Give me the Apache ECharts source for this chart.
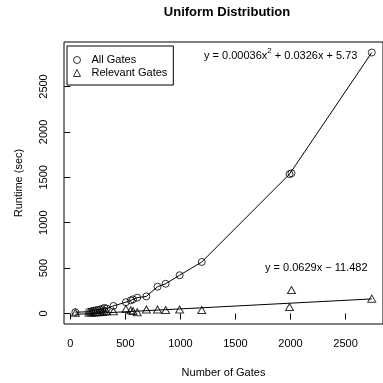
<!DOCTYPE html>
<html>
<head>
<meta charset="utf-8">
<script src="https://cdn.jsdelivr.net/npm/echarts@6/dist/echarts.min.js"></script>
<style>
html,body{margin:0;padding:0;background:#fff;}
#chart{width:383px;height:383px;}
</style>
</head>
<body>
<div id="chart"></div>
<script>
// Data
const allGatesX = [46, 170, 190, 210, 230, 250, 270, 290, 310, 330, 392, 505, 549, 570, 608, 691, 792, 866, 993, 1194, 1991, 2009, 2738];
const allGatesY = [15, 20, 25, 30, 35, 40, 45, 50, 62, 55, 84, 125, 145, 156, 175, 189, 295, 328, 422, 568, 1535, 1545, 2874];
const relGatesX = [46, 170, 190, 210, 230, 250, 270, 290, 310, 330, 392, 505, 549, 570, 608, 691, 792, 866, 993, 1194, 1991, 2009, 2738];
const relGatesY = [8, 10, 12, 12, 15, 15, 20, 18, 22, 25, 25, 50, 36, 29, 15, 45, 45, 40, 45, 40, 73, 259, 164];
const relFitX = [46, 2738];
const relFitY = [-9, 161];
const xTicks = [0, 500, 1000, 1500, 2000, 2500];
const yTicks = [0, 500, 1000, 1500, 2000, 2500];
const titleText = 'Uniform Distribution';
const xName = 'Number of Gates';
const yName = 'Runtime (sec)';
const seriesNames = ['All Gates', 'Relevant Gates'];

const pts = (xs, ys) => xs.map((x, i) => [x, ys[i]]);
const FONT = 'Liberation Sans, Arial, Helvetica, sans-serif';
const plain = v => String(v);

const chart = echarts.init(document.getElementById('chart'), null, {renderer: 'canvas'});
chart.setOption({
  animation: false,
  backgroundColor: '#fff',
  textStyle: {fontFamily: FONT, color: '#000'},
  title: {
    text: titleText,
    left: 227, top: 6, textAlign: 'center', padding: 0,
    textStyle: {fontFamily: FONT, fontSize: 13, fontWeight: 'bold', color: '#000'}
  },
  grid: {
    left: 64, top: 42, right: -8, bottom: 56.5,
    show: true, borderColor: '#000', borderWidth: 1, backgroundColor: 'transparent'
  },
  legend: {
    orient: 'vertical', left: 67, top: 46,
    padding: [8, 6, 6, 6],
    borderColor: '#000', borderWidth: 1,
    itemWidth: 7, itemHeight: 7, itemGap: 1,
    textStyle: {fontFamily: FONT, fontSize: 11, color: '#000', lineHeight: 12, padding: [0, 0, 0, 6]},
    data: [
      {name: seriesNames[0], icon: 'circle', itemStyle: {color: 'rgba(0,0,0,0)', borderColor: '#000', borderWidth: 1}},
      {name: seriesNames[1], icon: 'triangle', itemStyle: {color: 'rgba(0,0,0,0)', borderColor: '#000', borderWidth: 1}}
    ]
  },
  xAxis: {
    type: 'value', min: -57, max: 2840,
    name: xName, nameLocation: 'middle', nameGap: 43,
    nameTextStyle: {fontFamily: FONT, fontSize: 11, color: '#000'},
    axisLine: {show: false},
    axisTick: {show: true, inside: false, length: 6, customValues: xTicks, lineStyle: {color: '#000', width: 1}},
    axisLabel: {customValues: xTicks, formatter: plain, margin: 14, fontFamily: FONT, fontSize: 11, color: '#000'},
    splitLine: {show: false}
  },
  yAxis: {
    type: 'value', min: -115, max: 2990,
    name: yName, nameLocation: 'middle', nameGap: 40, nameRotate: 90,
    nameTextStyle: {fontFamily: FONT, fontSize: 11, color: '#000'},
    axisLine: {show: false},
    axisTick: {show: true, inside: false, length: 6, customValues: yTicks, lineStyle: {color: '#000', width: 1}},
    axisLabel: {customValues: yTicks, formatter: plain, rotate: 90, margin: 15, fontFamily: FONT, fontSize: 11, color: '#000'},
    splitLine: {show: false}
  },
  graphic: [
    {
      type: 'text', left: 204, top: 47,
      style: {
        text: '{n|y = 0.00036x}{s|2}{n| + 0.0326x + 5.73}',
        rich: {
          n: {fontFamily: FONT, fontSize: 11, fill: '#000', verticalAlign: 'bottom', lineHeight: 14},
          s: {fontFamily: FONT, fontSize: 8, fill: '#000', verticalAlign: 'top', lineHeight: 14, padding: [0, 0, 5, 0]}
        }
      }
    },
    {
      type: 'text', left: 265, top: 262,
      style: {text: 'y = 0.0629x \u2212 11.482', fontFamily: FONT, fontSize: 11, fill: '#000'}
    }
  ],
  series: [
    {
      name: seriesNames[0] + ' line', type: 'line', data: pts(allGatesX, allGatesY),
      showSymbol: false, symbol: 'none', lineStyle: {color: '#000', width: 1}, silent: true, z: 2
    },
    {
      name: seriesNames[0], type: 'scatter', data: pts(allGatesX, allGatesY),
      symbol: 'circle', symbolSize: 7,
      itemStyle: {color: 'rgba(0,0,0,0)', borderColor: '#000', borderWidth: 1}, z: 3
    },
    {
      name: seriesNames[1] + ' fit', type: 'line', data: pts(relFitX, relFitY),
      showSymbol: false, symbol: 'none', lineStyle: {color: '#000', width: 1}, silent: true, z: 2
    },
    {
      name: seriesNames[1], type: 'scatter', data: pts(relGatesX, relGatesY),
      symbol: 'triangle', symbolSize: [8, 7],
      itemStyle: {color: 'rgba(0,0,0,0)', borderColor: '#000', borderWidth: 1}, z: 3
    }
  ]
});
</script>
</body>
</html>
